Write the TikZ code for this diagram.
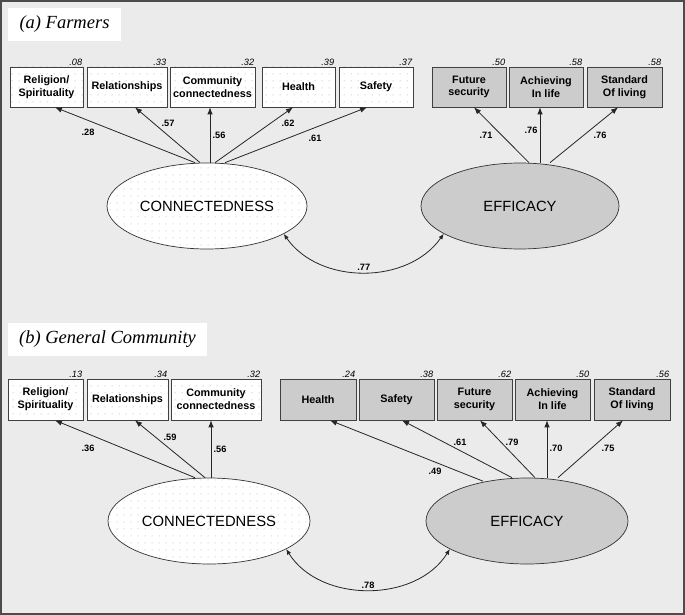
\documentclass[tikz,border=0pt]{standalone}
\usepackage{fontspec}
\setmainfont{Liberation Serif}
\setsansfont{Liberation Sans}
\usetikzlibrary{shapes.geometric, arrows.meta, positioning, patterns.meta}
\definecolor{panelbg}{RGB}{235,235,235}
\definecolor{boxgray}{RGB}{204,204,204}
\tikzset{
  obsbox/.style={rectangle, draw=black!75, minimum height=40pt, inner sep=1pt,
                 align=center, font=\sffamily\bfseries\fontsize{10.8}{12.8}\selectfont,
                 line width=0.7pt},
  indbox/.style={obsbox, preaction={fill=white},
                 pattern={Dots[distance=6.5pt, radius=0.5pt]}, pattern color=black!45},
  effbox/.style={obsbox, fill=boxgray},
  latent/.style={ellipse, draw=black!80, minimum width=200pt, minimum height=86pt,
                 font=\sffamily\fontsize{14.8}{17}\selectfont, line width=0.7pt},
  dotlat/.style={latent, preaction={fill=white},
                 pattern={Dots[distance=6.5pt, radius=0.5pt]}, pattern color=black!45},
  graylat/.style={latent, fill=boxgray},
  arrow/.style={-{Latex[length=7pt, width=5.5pt]}, draw=black!85, line width=0.8pt},
  covar/.style={{Latex[length=5.5pt, width=4.5pt]}-{Latex[length=5.5pt, width=4.5pt]},
                draw=black!85, line width=0.8pt},
  coef/.style={font=\sffamily\bfseries\fontsize{9.2}{10}\selectfont, inner sep=1pt},
  varlab/.style={font=\sffamily\itshape\fontsize{9.2}{10}\selectfont, inner sep=1pt},
  paneltitle/.style={rectangle, fill=white, inner sep=0pt, minimum height=33pt,
                     font=\itshape\fontsize{18.5}{22}\selectfont},
}

\begin{document}
\begin{tikzpicture}[x=1pt, y=-1pt]
  % Frame
  \useasboundingbox (0,0) rectangle (685,615);
  \draw[fill=panelbg, draw=black!70, line width=1.2pt] (1,1) rectangle (684,614);

  % (a) Farmers
  \node[paneltitle, minimum width=113pt] (ta) at (64.5,24.5) {(a) Farmers};

  \node[indbox, minimum width=73pt] (rs1) at (46.5,87) {Religion/\\Spirituality};
  \node[indbox, minimum width=80pt] (rl1) at (127,87) {Relationships};
  \node[indbox, minimum width=85pt] (cc1) at (212.5,87) {Community\\connectedness};
  \node[indbox, minimum width=73pt] (he1) at (298.5,87) {Health};
  \node[indbox, minimum width=74pt] (sa1) at (376,87) {Safety};
  \node[effbox, minimum width=74pt] (fs1) at (469,87) {Future\\security};
  \node[effbox, minimum width=74pt] (ac1) at (546,87) {Achieving\\In life};
  \node[effbox, minimum width=75pt] (sl1) at (624.5,87) {Standard\\Of living};

  \node[varlab, above left=0pt of rs1.north east] (vrs1) {.08};
  \node[varlab, above left=0pt of rl1.north east] (vrl1) {.33};
  \node[varlab, above left=0pt of cc1.north east] (vcc1) {.32};
  \node[varlab, above left=0pt of he1.north east] (vhe1) {.39};
  \node[varlab, above left=0pt of sa1.north east] (vsa1) {.37};
  \node[varlab, above left=0pt of fs1.north east] (vfs1) {.50};
  \node[varlab, above left=0pt of ac1.north east] (vac1) {.58};
  \node[varlab, above left=0pt of sl1.north east] (vsl1) {.58};

  \node[dotlat, minimum width=200pt] (con1) at (207,206) {CONNECTEDNESS};
  \node[graylat, minimum width=198pt] (eff1) at (520,206) {EFFICACY};

  \draw[arrow] ([xshift=-12pt]con1.north) -- ([xshift=8.5pt]rs1.south);
  \draw[arrow] ([xshift=-7pt]con1.north) -- ([xshift=8pt]rl1.south);
  \draw[arrow] ([xshift=3pt]con1.north) -- ([xshift=-2.5pt]cc1.south);
  \draw[arrow] ([xshift=8pt]con1.north) -- ([xshift=-5.5pt]he1.south);
  \draw[arrow] ([xshift=18pt]con1.north) -- ([xshift=-9pt]sa1.south);
  \draw[arrow] ([xshift=9pt]eff1.north) -- ([xshift=5pt]fs1.south);
  \draw[arrow] ([xshift=20pt]eff1.north) -- ([xshift=-6pt]ac1.south);
  \draw[arrow] ([xshift=30pt]eff1.north) -- ([xshift=-6.5pt]sl1.south);
  \draw[covar] (con1.-20) to[out=-55, in=-125] node[coef, above] (k1) {.77} (eff1.200);

  \node[coef] (l1) at (88,132) {.28};
  \node[coef] (l2) at (168,123) {.57};
  \node[coef] (l3) at (219,135) {.56};
  \node[coef] (l4) at (288,123) {.62};
  \node[coef] (l5) at (315,138) {.61};
  \node[coef] (l6) at (486,135) {.71};
  \node[coef] (l7) at (531,130) {.76};
  \node[coef] (l8) at (600,135) {.76};

  % (b) General Community
  \node[paneltitle, minimum width=199pt] (tb) at (107.5,339) {(b) General Community};

  \node[indbox, minimum width=75pt, minimum height=41pt] (rs2) at (45.5,399.5) {Religion/\\Spirituality};
  \node[indbox, minimum width=81pt, minimum height=41pt] (rl2) at (127.5,399.5) {Relationships};
  \node[indbox, minimum width=90pt, minimum height=41pt] (cc2) at (216,399.5) {Community\\connectedness};
  \node[effbox, minimum width=76pt, minimum height=41pt] (he2) at (318,399.5) {Health};
  \node[effbox, minimum width=75pt, minimum height=41pt] (sa2) at (396.5,399.5) {Safety};
  \node[effbox, minimum width=75pt, minimum height=41pt] (fs2) at (474.5,399.5) {Future\\security};
  \node[effbox, minimum width=75pt, minimum height=41pt] (ac2) at (552.5,399.5) {Achieving\\In life};
  \node[effbox, minimum width=76pt, minimum height=41pt] (sl2) at (632,399.5) {Standard\\Of living};

  \node[varlab, above left=0pt of rs2.north east] (vrs2) {.13};
  \node[varlab, above left=0pt of rl2.north east] (vrl2) {.34};
  \node[varlab, above left=0pt of cc2.north east] (vcc2) {.32};
  \node[varlab, above left=0pt of he2.north east] (vhe2) {.24};
  \node[varlab, above left=0pt of sa2.north east] (vsa2) {.38};
  \node[varlab, above left=0pt of fs2.north east] (vfs2) {.62};
  \node[varlab, above left=0pt of ac2.north east] (vac2) {.50};
  \node[varlab, above left=0pt of sl2.north east] (vsl2) {.56};

  \node[dotlat, minimum width=202pt] (con2) at (209,521) {CONNECTEDNESS};
  \node[graylat, minimum width=202pt] (eff2) at (527,521) {EFFICACY};

  \draw[arrow] ([xshift=-14pt]con2.north) -- ([xshift=9.5pt]rs2.south);
  \draw[arrow] ([xshift=-4pt]con2.north) -- ([xshift=7.5pt]rl2.south);
  \draw[arrow] ([xshift=2pt]con2.north) -- ([xshift=-5pt]cc2.south);
  \draw[arrow] ([xshift=-44pt, yshift=-3.5pt]eff2.north) -- ([xshift=12pt]he2.south);
  \draw[arrow] ([xshift=-15pt]eff2.north) -- ([xshift=5.5pt]sa2.south);
  \draw[arrow] ([xshift=8pt]eff2.north) -- ([xshift=5.5pt]fs2.south);
  \draw[arrow] ([xshift=20pt]eff2.north) -- ([xshift=-5.5pt]ac2.south);
  \draw[arrow] ([xshift=31pt]eff2.north) -- ([xshift=-9pt]sl2.south);
  \draw[covar] (con2.-20) to[out=-58, in=-122] node[coef, above] (k2) {.78} (eff2.200);

  \node[coef] (m1) at (88,448) {.36};
  \node[coef] (m2) at (170,437) {.59};
  \node[coef] (m3) at (220,449) {.56};
  \node[coef] (m4) at (435,471) {.49};
  \node[coef] (m5) at (460,442) {.61};
  \node[coef] (m6) at (512,442) {.79};
  \node[coef] (m7) at (556,448) {.70};
  \node[coef] (m8) at (608,448) {.75};
\end{tikzpicture}
\end{document}
